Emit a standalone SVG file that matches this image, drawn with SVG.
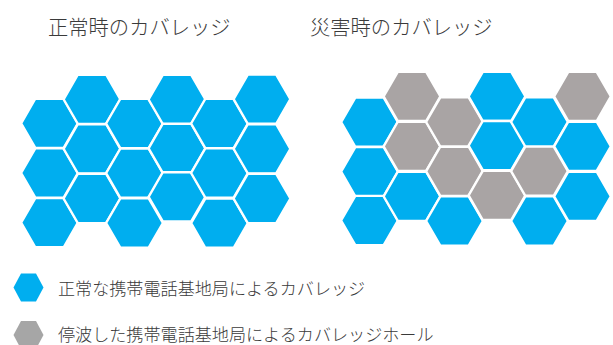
<svg xmlns="http://www.w3.org/2000/svg" xmlns:xlink="http://www.w3.org/1999/xlink" width="613" height="345" viewBox="0 0 613 345">
  <style>
    .t { font-family: "Noto Sans CJK JP", "Noto Sans", sans-serif; fill: #3a3a3a; font-weight: 300; }
    .title { font-size: 20.3px; }
    .leg { font-size: 17.1px; }
    .b { fill: #00AEEF; }
    .g { fill: #A9A4A4; }
    .lg { fill: #A6A6A6; }
  </style>
  <defs>
    <polygon id="hex" points="-28.4,0 -14.2,-24.6 14.2,-24.6 28.4,0 14.2,24.6 -14.2,24.6" stroke="#ffffff" stroke-width="2.4" stroke-linejoin="miter"/>
    <polygon id="lhex" points="-15,0 -7.5,-14 7.5,-14 15,0 7.5,14 -7.5,14"/>
  </defs>
  <rect width="613" height="345" fill="#ffffff"/>

  <g id="title-normal"><text class="t title" x="48" y="35.3">正常時のカバレッジ</text></g>
  <g id="title-disaster"><text class="t title" x="310" y="35.3">災害時のカバレッジ</text></g>

  <g id="grid-normal">
    <g id="n-c1r1"><use href="#hex" x="49.5" y="123.3" class="b"/></g>
    <g id="n-c1r2"><use href="#hex" x="49.5" y="173" class="b"/></g>
    <g id="n-c1r3"><use href="#hex" x="49.5" y="222.7" class="b"/></g>
    <g id="n-c2r1"><use href="#hex" x="92" y="99.3" class="b"/></g>
    <g id="n-c2r2"><use href="#hex" x="92" y="148.8" class="b"/></g>
    <g id="n-c2r3"><use href="#hex" x="92" y="198.5" class="b"/></g>
    <g id="n-c3r1"><use href="#hex" x="134.5" y="123.5" class="b"/></g>
    <g id="n-c3r2"><use href="#hex" x="134.5" y="173.2" class="b"/></g>
    <g id="n-c3r3"><use href="#hex" x="134.5" y="223" class="b"/></g>
    <g id="n-c4r1"><use href="#hex" x="177" y="99.5" class="b"/></g>
    <g id="n-c4r2"><use href="#hex" x="177" y="148.3" class="b"/></g>
    <g id="n-c4r3"><use href="#hex" x="177" y="196.8" class="b"/></g>
    <g id="n-c5r1"><use href="#hex" x="219.5" y="123.5" class="b"/></g>
    <g id="n-c5r2"><use href="#hex" x="219.5" y="173" class="b"/></g>
    <g id="n-c5r3"><use href="#hex" x="219.5" y="223.2" class="b"/></g>
    <g id="n-c6r1"><use href="#hex" x="262" y="99.2" class="b"/></g>
    <g id="n-c6r2"><use href="#hex" x="262" y="148.8" class="b"/></g>
    <g id="n-c6r3"><use href="#hex" x="262" y="198.5" class="b"/></g>
  </g>

  <g id="grid-disaster">
    <g id="d-c1r1"><use href="#hex" x="369.5" y="122.2" class="b"/></g>
    <g id="d-c1r2"><use href="#hex" x="369.5" y="171.7" class="b"/></g>
    <g id="d-c1r3"><use href="#hex" x="369.5" y="220.5" class="b"/></g>
    <g id="d-c2r1"><use href="#hex" x="412" y="96.4" class="g"/></g>
    <g id="d-c2r2"><use href="#hex" x="412" y="146.3" class="g"/></g>
    <g id="d-c2r3"><use href="#hex" x="412" y="196.3" class="b"/></g>
    <g id="d-c3r1"><use href="#hex" x="454.5" y="122" class="g"/></g>
    <g id="d-c3r2"><use href="#hex" x="454.5" y="171.3" class="g"/></g>
    <g id="d-c3r3"><use href="#hex" x="454.5" y="221" class="b"/></g>
    <g id="d-c4r1"><use href="#hex" x="497" y="96.4" class="b"/></g>
    <g id="d-c4r2"><use href="#hex" x="497" y="145.6" class="b"/></g>
    <g id="d-c4r3"><use href="#hex" x="497" y="195.4" class="g"/></g>
    <g id="d-c5r1"><use href="#hex" x="539.5" y="122" class="b"/></g>
    <g id="d-c5r2"><use href="#hex" x="539.5" y="171.2" class="g"/></g>
    <g id="d-c5r3"><use href="#hex" x="539.5" y="221" class="b"/></g>
    <g id="d-c6r1"><use href="#hex" x="582.5" y="96.4" class="g"/></g>
    <g id="d-c6r2"><use href="#hex" x="582.5" y="146.3" class="b"/></g>
    <g id="d-c6r3"><use href="#hex" x="582.5" y="196.3" class="b"/></g>
  </g>

  <g id="connectors"></g>

  <g id="legend-normal">
    <use href="#lhex" x="28.5" y="287.5" class="b"/>
    <text class="t leg" x="58" y="294.5">正常な携帯電話基地局によるカバレッジ</text>
  </g>
  <g id="legend-outage">
    <use href="#lhex" x="28.5" y="335" class="lg"/>
    <text class="t leg" x="58" y="340.5">停波した携帯電話基地局によるカバレッジホール</text>
  </g>
</svg>
